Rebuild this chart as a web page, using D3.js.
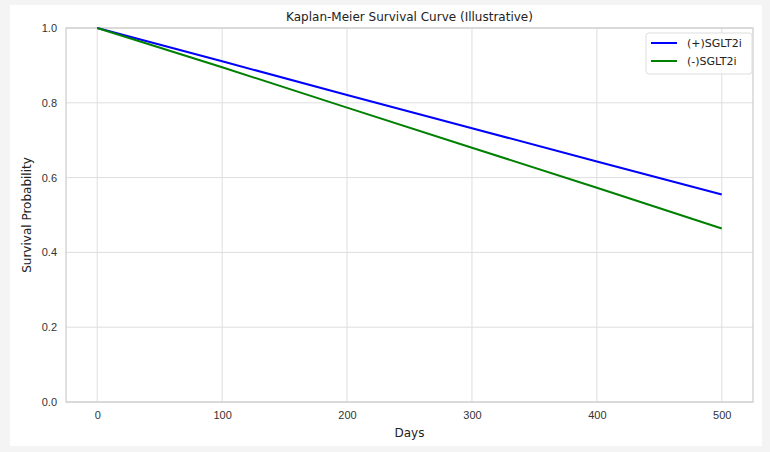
<!DOCTYPE html>
<html>
<head>
<meta charset="utf-8">
<script src="https://cdn.jsdelivr.net/npm/d3@7"></script>
<style>
  html, body { margin: 0; padding: 0; background: #f4f4f4; }
  svg { display: block; font-family: 'DejaVu Sans', sans-serif; }
</style>
</head>
<body>
<svg id="chart"></svg>
<script>
const w = 770;
const h = 452;

// data
const days = [0, 100, 200, 300, 400, 500];
const withSGLT2i = [1.0, 0.911, 0.821, 0.732, 0.643, 0.555];
const withoutSGLT2i = [1.0, 0.895, 0.787, 0.680, 0.573, 0.464];
const seriesNames = ['(+)SGLT2i', '(-)SGLT2i'];
const seriesColors = ['#0000ff', '#008000'];
const xTicks = [0, 100, 200, 300, 400, 500];
const yTicks = [0, 0.2, 0.4, 0.6, 0.8, 1.0];

const margin = { top: 28, right: 17, bottom: 50, left: 66 };

const svg = d3.select('#chart').attr('width', w).attr('height', h);

// white figure panel
svg.append('rect')
  .attr('x', 10).attr('y', 5)
  .attr('width', 752).attr('height', 441)
  .attr('fill', '#ffffff');

const xScale = d3.scaleLinear()
  .domain([-25, 525])
  .range([margin.left, w - margin.right]);
const yScale = d3.scaleLinear()
  .domain([0, 1])
  .range([h - margin.bottom, margin.top]);

// grid
const grid = svg.append('g');
grid.selectAll('.vgrid').data(xTicks).enter().append('line')
  .attr('x1', d => xScale(d)).attr('x2', d => xScale(d))
  .attr('y1', yScale(0)).attr('y2', yScale(1))
  .attr('stroke', '#dedede').attr('stroke-width', 1);
grid.selectAll('.hgrid').data(yTicks).enter().append('line')
  .attr('x1', xScale(-25)).attr('x2', xScale(525))
  .attr('y1', d => yScale(d)).attr('y2', d => yScale(d))
  .attr('stroke', '#dedede').attr('stroke-width', 1);

// axes
const xAxis = d3.axisBottom(xScale).tickValues(xTicks).tickSize(0).tickPadding(9);
const yAxis = d3.axisLeft(yScale).tickValues(yTicks).tickSize(0).tickPadding(9)
  .tickFormat(d3.format('.1f'));

svg.append('g')
  .attr('transform', `translate(0,${h - margin.bottom})`)
  .call(xAxis)
  .call(g => g.select('.domain').remove())
  .selectAll('text').attr('font-size', 11).attr('fill', '#333');
svg.append('g')
  .attr('transform', `translate(${margin.left},0)`)
  .call(yAxis)
  .call(g => g.select('.domain').remove())
  .selectAll('text').attr('font-size', 11).attr('fill', '#333');

// spines
svg.append('rect')
  .attr('x', xScale(-25)).attr('y', yScale(1))
  .attr('width', xScale(525) - xScale(-25))
  .attr('height', yScale(0) - yScale(1))
  .attr('fill', 'none').attr('stroke', '#cccccc').attr('stroke-width', 1.2);

// lines
const line = d3.line()
  .x((d, i) => xScale(days[i]))
  .y(d => yScale(d));

[withSGLT2i, withoutSGLT2i].forEach((s, i) => {
  svg.append('path')
    .datum(s)
    .attr('d', line)
    .attr('fill', 'none')
    .attr('stroke', seriesColors[i])
    .attr('stroke-width', 2);
});

// labels
svg.append('text')
  .attr('x', (xScale(-25) + xScale(525)) / 2).attr('y', 21)
  .attr('text-anchor', 'middle').attr('font-size', 12).attr('fill', '#222')
  .text('Kaplan-Meier Survival Curve (Illustrative)');
svg.append('text')
  .attr('x', (xScale(-25) + xScale(525)) / 2).attr('y', 437)
  .attr('text-anchor', 'middle').attr('font-size', 12).attr('fill', '#222')
  .text('Days');
svg.append('text')
  .attr('transform', `translate(31,${(yScale(0) + yScale(1)) / 2}) rotate(-90)`)
  .attr('text-anchor', 'middle').attr('font-size', 12).attr('fill', '#222')
  .text('Survival Probability');

// legend
const legend = svg.append('g').attr('transform', 'translate(646,33)');
legend.append('rect')
  .attr('width', 106).attr('height', 41).attr('rx', 3)
  .attr('fill', '#ffffff').attr('fill-opacity', 0.85)
  .attr('stroke', '#dddddd');
seriesNames.forEach((name, i) => {
  legend.append('line')
    .attr('x1', 5).attr('x2', 31)
    .attr('y1', 10 + i * 18).attr('y2', 10 + i * 18)
    .attr('stroke', seriesColors[i]).attr('stroke-width', 2);
  legend.append('text')
    .attr('x', 41).attr('y', 14 + i * 18)
    .attr('font-size', 11).attr('fill', '#222')
    .text(name);
});
</script>
</body>
</html>
